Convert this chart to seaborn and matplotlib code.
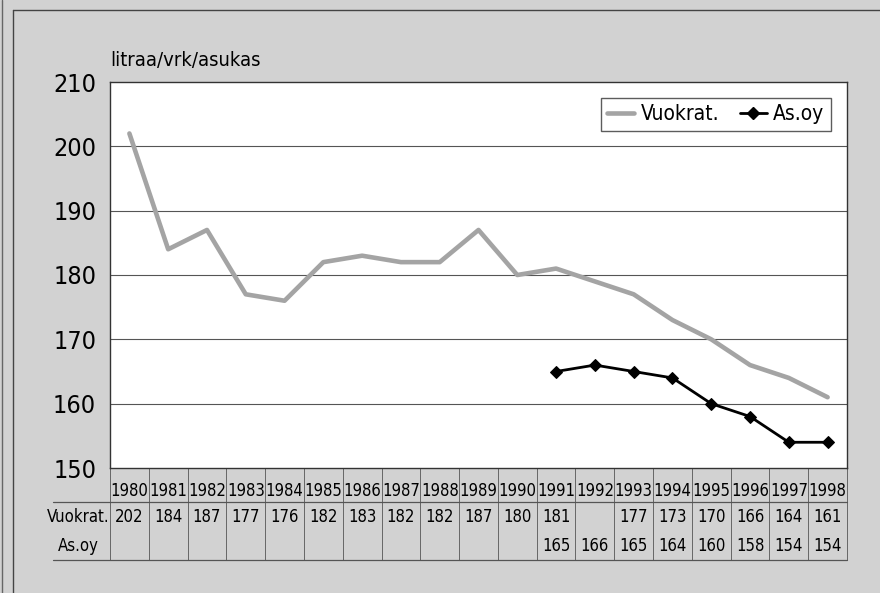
import numpy as np
import pandas as pd
import matplotlib
matplotlib.use('Agg')
import matplotlib.pyplot as plt
import seaborn as sns
from matplotlib.lines import Line2D

# data
years = list(range(1980, 1999))
vuokrat = [202, 184, 187, 177, 176, 182, 183, 182, 182, 187, 180, 181,
           np.nan, 177, 173, 170, 166, 164, 161]
as_oy = [np.nan] * 11 + [165, 166, 165, 164, 160, 158, 154, 154]
y_ticks = [150, 160, 170, 180, 190, 200, 210]
series_names = ['Vuokrat.', 'As.oy']

sns.set_style('white')
plt.rcParams['font.family'] = ['DejaVu Sans']
plt.rcParams['font.stretch'] = 'condensed'
plt.rcParams['text.color'] = 'black'
plt.rcParams['ytick.color'] = 'black'

bg = '#d2d2d2'
fig = plt.figure(figsize=(8.8, 5.93), dpi=100, facecolor=bg)
W, H = 880, 593
ax = fig.add_axes([110 / W, 1 - 468 / H, (847 - 110) / W, (468 - 82) / H])
ax.set_facecolor('white')

df = pd.DataFrame({'i': np.arange(len(years)), 'Vuokrat.': vuokrat, 'As.oy': as_oy})
d1 = df.dropna(subset=['Vuokrat.'])
d2 = df.dropna(subset=['As.oy'])
sns.lineplot(data=d1, x='i', y='Vuokrat.', ax=ax, color='#a4a4a4', lw=3.3, zorder=3)
sns.lineplot(data=d2, x='i', y='As.oy', ax=ax, color='black', lw=2.0,
             marker='D', markersize=6.5, markeredgecolor='black', zorder=4)

ax.set_xlim(-0.5, len(years) - 0.5)
ax.set_ylim(150, 210)
ax.set_yticks(y_ticks)
ax.set_yticklabels([str(t) for t in y_ticks], fontsize=18)
ax.set_xticks([])
ax.set_xlabel('')
ax.set_ylabel('')
ax.tick_params(axis='y', length=0, pad=10)
for t in y_ticks[1:-1]:
    ax.axhline(t, color='#555555', lw=0.8, zorder=1)
for s in ax.spines.values():
    s.set_color('#333333')
    s.set_linewidth(1.0)

ax.text(0, 1.03, 'litraa/vrk/asukas', transform=ax.transAxes, fontsize=14.5,
        ha='left', va='bottom')

handles = [Line2D([], [], color='#a4a4a4', lw=3.3),
           Line2D([], [], color='black', lw=2.0, marker='D', markersize=6)]
leg = ax.legend(handles, series_names, loc='upper right', ncol=2, fontsize=15,
                frameon=True, fancybox=False, handlelength=1.3, handletextpad=0.3,
                columnspacing=1.0, borderpad=0.3, bbox_to_anchor=(0.992, 0.985))
leg.get_frame().set_edgecolor('#333333')
leg.get_frame().set_linewidth(1.0)

# table below the plot
trans = matplotlib.transforms.blended_transform_factory(ax.transData, fig.transFigure)
fy = lambda py: 1 - py / H
fs = 12
for i, yr in enumerate(years):
    ax.text(i, fy(491), str(yr), transform=trans, ha='center', va='center', fontsize=fs)
    if not np.isnan(vuokrat[i]):
        ax.text(i, fy(517), str(int(vuokrat[i])), transform=trans, ha='center', va='center', fontsize=fs)
    if not np.isnan(as_oy[i]):
        ax.text(i, fy(546), str(int(as_oy[i])), transform=trans, ha='center', va='center', fontsize=fs)
for b in np.arange(-0.5, len(years)):
    ax.plot([b, b], [fy(468), fy(560)], transform=trans, color='#666666', lw=0.7, clip_on=False)
fig.add_artist(Line2D([53 / W, 847 / W], [fy(502), fy(502)], color='#555555', lw=0.9))
fig.add_artist(Line2D([53 / W, 847 / W], [fy(560), fy(560)], color='#555555', lw=0.9))
fig.text(78 / W, fy(517), 'Vuokrat.', ha='center', va='center', fontsize=fs)
fig.text(78 / W, fy(546), 'As.oy', ha='center', va='center', fontsize=fs)

# outer frame lines
fig.add_artist(Line2D([13 / W, 13 / W], [0, fy(10)], color='#444444', lw=1.0))
fig.add_artist(Line2D([13 / W, 1], [fy(10), fy(10)], color='#444444', lw=1.0))
fig.add_artist(Line2D([2 / W, 2 / W], [0, 1], color='#666666', lw=1.0))

fig.savefig('out.png', dpi=100, facecolor=bg)
